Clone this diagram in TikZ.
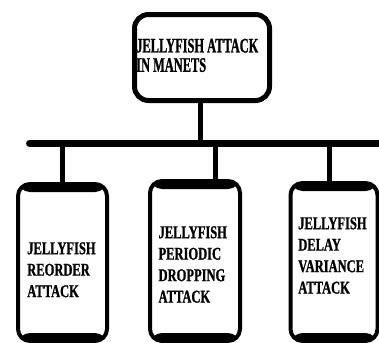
\documentclass[tikz,border=0pt]{standalone}
\usepackage{fontspec}
\newfontfamily\topfont[FakeStretch=0.6,FakeBold=1]{Liberation Serif}
\newfontfamily\botfont[FakeStretch=0.695,FakeBold=1]{Liberation Serif}
\begin{document}
\begin{tikzpicture}[x=0.75pt,y=-0.75pt,
  topbox/.style={draw,fill=white,line width=3.75pt,rounded corners=10.5pt,inner sep=0pt},
  box/.style={draw,fill=white,line width=3pt,rounded corners=9pt,inner sep=0pt,
    path picture={
      \fill[black] (path picture bounding box.north west) rectangle ([yshift=-6pt]path picture bounding box.north east);
      \fill[black] (path picture bounding box.south west) rectangle ([yshift=6pt]path picture bounding box.south east);
    }},
  txtt/.style={inner sep=0pt,anchor=north west,align=left,font=\topfont\bfseries\fontsize{15.5pt}{14.5pt}\selectfont},
  txtb/.style={inner sep=0pt,anchor=north west,align=left,font=\botfont\bfseries\fontsize{13.5pt}{16.1pt}\selectfont},
  conn/.style={line width=3.75pt},
  bar/.style={line width=5.25pt,line cap=round}]
\useasboundingbox (0,0) rectangle (379,343);

% boxes
\node[topbox,minimum width=101.25pt,minimum height=64.5pt] (T) at (202,57.5) {};
\node[box,minimum width=66.75pt,minimum height=117.75pt] (L) at (62.5,262.5) {};
\node[box,minimum width=67.5pt,minimum height=120pt] (M) at (195,261) {};
\node[box,minimum width=65.25pt,minimum height=118.5pt] (R) at (334,262) {};

% texts
\node[txtt] (Tt) at ([shift={(4,26.5)}]T.north west) {JELLYFISH ATTACK\\IN MANETS};
\node[txtb] (Lt) at ([shift={(11,60)}]L.north west) {JELLYFISH\\REORDER\\ATTACK};
\node[txtb] (Mt) at ([shift={(10.3,47)}]M.north west) {JELLYFISH\\PERIODIC\\DROPPING\\ATTACK};
\node[txtb] (Rt) at ([shift={(9.5,36)}]R.north west) {JELLYFISH\\DELAY\\VARIANCE\\ATTACK};

% connectors
\coordinate (barL) at (29.5,143.5);
\coordinate (barR) at (385,143.5);
\coordinate (tc) at ([xshift=-1.5pt]T.south);
\coordinate (lc) at (L.north);
\coordinate (mc) at ([xshift=15.4pt]M.north);
\coordinate (rc) at ([xshift=-3.75pt]R.north);
\draw[bar] (barL) -- (barR);
\draw[conn] (tc) -- (tc |- barL);
\draw[conn] (lc) -- (lc |- barL);
\draw[conn] (mc) -- (mc |- barL);
\draw[conn] (rc) -- (rc |- barL);
\end{tikzpicture}
\end{document}
